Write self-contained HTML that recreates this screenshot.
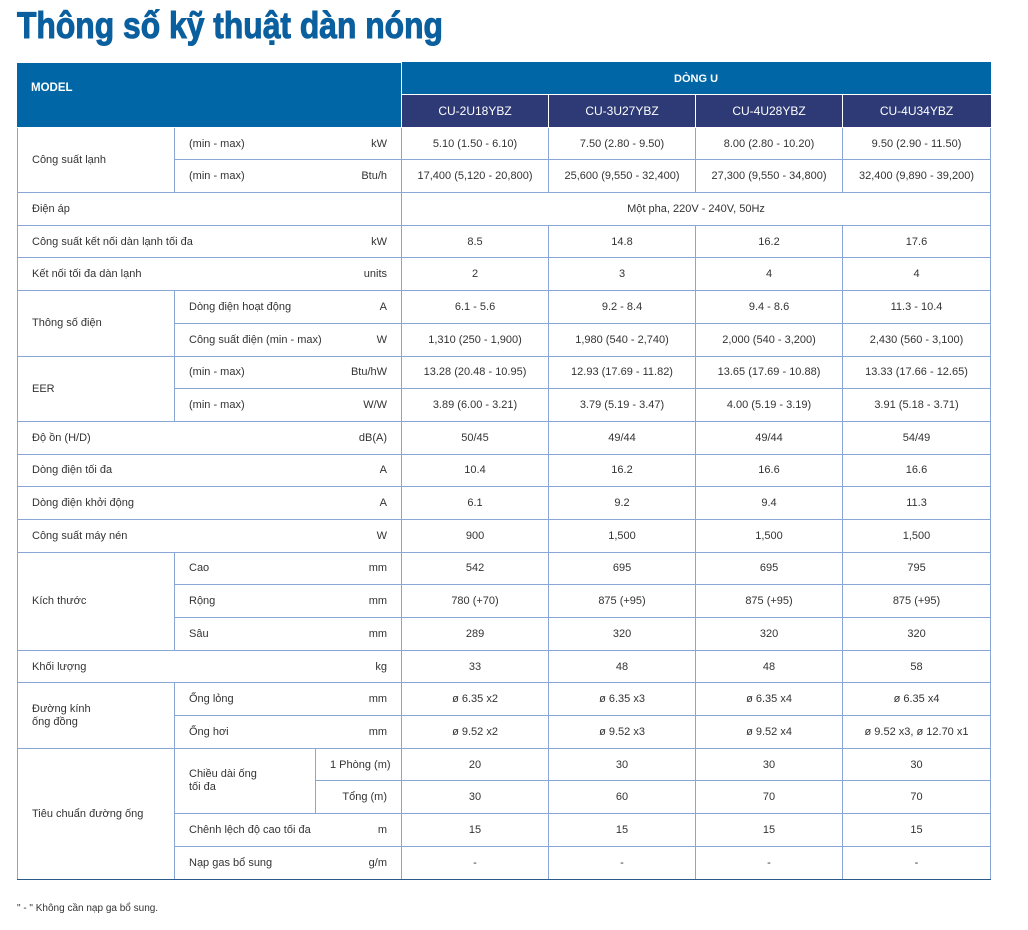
<!DOCTYPE html>
<html><head><meta charset="utf-8"><style>
body{margin:0;background:#fff;width:1028px;height:930px;position:relative;font-family:"Liberation Sans",sans-serif;color:#333;overflow:hidden}
h1{position:absolute;left:17px;top:5px;margin:0;font-size:37px;font-weight:bold;color:#0a5f9e;transform:scaleX(0.86);transform-origin:left top;white-space:nowrap;-webkit-text-stroke:1px #0a5f9e}
table{position:absolute;left:17px;top:62px;border-collapse:collapse;table-layout:fixed;width:973px;font-size:11px}
td{border:1px solid #8aa6d4;padding:0 14px;height:31.7px;white-space:nowrap;text-align:center}
td.l{text-align:left}
.hd{background:#0066a6;color:#fff;font-weight:bold;border-color:#fff}
.md{background:#2d3a75;color:#fff;font-size:12px;border-color:#fff;border-top-color:#fff}
.u{float:right}
tr:last-child td{border-bottom:1.5px solid #2a5a8a}
.foot{position:absolute;left:17px;top:903px;font-size:10px;color:#333}
</style></head><body>
<h1>Thông số kỹ thuật dàn nóng</h1>
<table>
<colgroup><col style="width:157px"><col style="width:141px"><col style="width:86px"><col style="width:147px"><col style="width:147px"><col style="width:147px"><col style="width:148px"></colgroup>
<tr><td class="hd l" colspan="3" rowspan="2" style="border-left-color:#0066a6;padding-left:13px;padding-bottom:14px;font-size:11.5px">MODEL</td><td class="hd" colspan="4" style="height:31px;border-top-color:#0066a6;border-right-color:#0066a6">DÒNG U</td></tr>
<tr><td class="md">CU-2U18YBZ</td><td class="md">CU-3U27YBZ</td><td class="md">CU-4U28YBZ</td><td class="md" style="border-right-color:#2d3a75">CU-4U34YBZ</td></tr>
<tr><td class="l" rowspan="2">Công suất lạnh</td><td class="l" colspan="2">(min - max)<span class="u">kW</span></td><td>5.10 (1.50 - 6.10)</td><td>7.50 (2.80 - 9.50)</td><td>8.00 (2.80 - 10.20)</td><td>9.50 (2.90 - 11.50)</td></tr>
<tr><td class="l" colspan="2">(min - max)<span class="u">Btu/h</span></td><td>17,400 (5,120 - 20,800)</td><td>25,600 (9,550 - 32,400)</td><td>27,300 (9,550 - 34,800)</td><td>32,400 (9,890 - 39,200)</td></tr>
<tr><td class="l" colspan="3">Điện áp</td><td colspan="4">Một pha, 220V - 240V, 50Hz</td></tr>
<tr><td class="l" colspan="3">Công suất kết nối dàn lạnh tối đa<span class="u">kW</span></td><td>8.5</td><td>14.8</td><td>16.2</td><td>17.6</td></tr>
<tr><td class="l" colspan="3">Kết nối tối đa dàn lạnh<span class="u">units</span></td><td>2</td><td>3</td><td>4</td><td>4</td></tr>
<tr><td class="l" rowspan="2">Thông số điện</td><td class="l" colspan="2">Dòng điện hoạt động<span class="u">A</span></td><td>6.1 - 5.6</td><td>9.2 - 8.4</td><td>9.4 - 8.6</td><td>11.3 - 10.4</td></tr>
<tr><td class="l" colspan="2">Công suất điện (min - max)<span class="u">W</span></td><td>1,310 (250 - 1,900)</td><td>1,980 (540 - 2,740)</td><td>2,000 (540 - 3,200)</td><td>2,430 (560 - 3,100)</td></tr>
<tr><td class="l" rowspan="2">EER</td><td class="l" colspan="2">(min - max)<span class="u">Btu/hW</span></td><td>13.28 (20.48 - 10.95)</td><td>12.93 (17.69 - 11.82)</td><td>13.65 (17.69 - 10.88)</td><td>13.33 (17.66 - 12.65)</td></tr>
<tr><td class="l" colspan="2">(min - max)<span class="u">W/W</span></td><td>3.89 (6.00 - 3.21)</td><td>3.79 (5.19 - 3.47)</td><td>4.00 (5.19 - 3.19)</td><td>3.91 (5.18 - 3.71)</td></tr>
<tr><td class="l" colspan="3">Độ ồn (H/D)<span class="u">dB(A)</span></td><td>50/45</td><td>49/44</td><td>49/44</td><td>54/49</td></tr>
<tr><td class="l" colspan="3">Dòng điện tối đa<span class="u">A</span></td><td>10.4</td><td>16.2</td><td>16.6</td><td>16.6</td></tr>
<tr><td class="l" colspan="3">Dòng điện khởi động<span class="u">A</span></td><td>6.1</td><td>9.2</td><td>9.4</td><td>11.3</td></tr>
<tr><td class="l" colspan="3">Công suất máy nén<span class="u">W</span></td><td>900</td><td>1,500</td><td>1,500</td><td>1,500</td></tr>
<tr><td class="l" rowspan="3">Kích thước</td><td class="l" colspan="2">Cao<span class="u">mm</span></td><td>542</td><td>695</td><td>695</td><td>795</td></tr>
<tr><td class="l" colspan="2">Rộng<span class="u">mm</span></td><td>780 (+70)</td><td>875 (+95)</td><td>875 (+95)</td><td>875 (+95)</td></tr>
<tr><td class="l" colspan="2">Sâu<span class="u">mm</span></td><td>289</td><td>320</td><td>320</td><td>320</td></tr>
<tr><td class="l" colspan="3">Khối lượng<span class="u">kg</span></td><td>33</td><td>48</td><td>48</td><td>58</td></tr>
<tr><td class="l" rowspan="2" style="line-height:13px">Đường kính<br>ống đồng</td><td class="l" colspan="2">Ống lỏng<span class="u">mm</span></td><td>ø 6.35 x2</td><td>ø 6.35 x3</td><td>ø 6.35 x4</td><td>ø 6.35 x4</td></tr>
<tr><td class="l" colspan="2">Ống hơi<span class="u">mm</span></td><td>ø 9.52 x2</td><td>ø 9.52 x3</td><td>ø 9.52 x4</td><td>ø 9.52 x3, ø 12.70 x1</td></tr>
<tr><td class="l" rowspan="4" style="border-bottom:1.5px solid #2a5a8a">Tiêu chuẩn đường ống</td><td class="l" rowspan="2" style="line-height:13px">Chiều dài ống<br>tối đa</td><td style="text-align:right">1 Phòng (m)</td><td>20</td><td>30</td><td>30</td><td>30</td></tr>
<tr><td style="text-align:right">Tổng (m)</td><td>30</td><td>60</td><td>70</td><td>70</td></tr>
<tr><td class="l" colspan="2">Chênh lệch độ cao tối đa<span class="u">m</span></td><td>15</td><td>15</td><td>15</td><td>15</td></tr>
<tr><td class="l" colspan="2">Nạp gas bổ sung<span class="u">g/m</span></td><td>-</td><td>-</td><td>-</td><td>-</td></tr>
</table>
<div class="foot">" - " Không cần nạp ga bổ sung.</div>
</body></html>
